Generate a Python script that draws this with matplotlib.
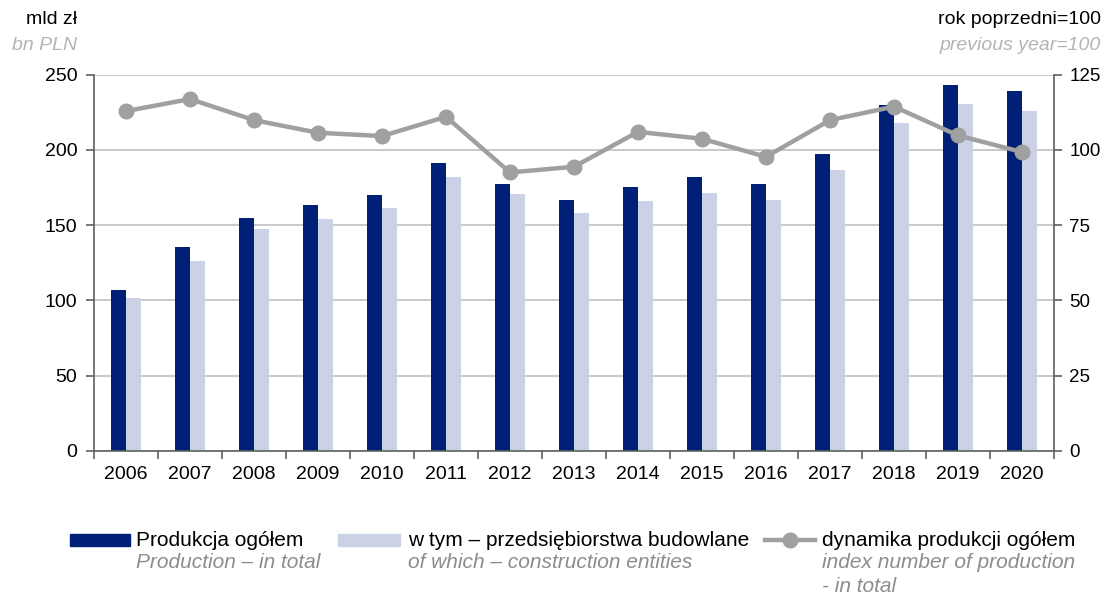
import matplotlib
matplotlib.use("Agg")
import matplotlib.pyplot as plt
import numpy as np
from matplotlib.patches import Rectangle
from matplotlib.lines import Line2D

plt.rcParams['font.family'] = ['Liberation Sans', 'DejaVu Sans']

years = ['2006', '2007', '2008', '2009', '2010', '2011', '2012', '2013',
         '2014', '2015', '2016', '2017', '2018', '2019', '2020']
production_total = [107, 135.6, 154.9, 163.6, 169.8, 191.5, 177.1, 166.7,
                    175.5, 181.8, 177.1, 197.0, 229.9, 243.4, 239.4]
construction_entities = [101.3, 126.1, 147.6, 153.9, 161.4, 182.0, 170.7, 158.0,
                         166.0, 171.5, 166.7, 186.6, 217.9, 230.7, 226.0]
index_dynamics = [112.9, 116.9, 109.9, 105.7, 104.6, 111.0, 92.5, 94.4,
                  106.0, 103.7, 97.7, 109.9, 114.4, 104.8, 99.3]
left_ticks = [0, 50, 100, 150, 200, 250]
right_ticks = [0, 25, 50, 75, 100, 125]

DARK = '#001f77'
LIGHT = '#ccd2e6'
GRAY = '#a0a0a0'
AX = '#606060'

W, H = 1106, 595
fig = plt.figure(figsize=(W / 100, H / 100), dpi=100)
ax = fig.add_axes([94 / W, 1 - 450.7 / H, (1054 - 94) / W, (450.7 - 74.7) / H])

x = np.arange(len(years))
bw = 0.235
ax.bar(x - bw / 2, production_total, bw, color=DARK, zorder=2)
ax.bar(x + bw / 2, construction_entities, bw, color=LIGHT, zorder=2)
ax.set_xlim(-0.5, len(years) - 0.5)
ax.set_ylim(0, 250)
ax.set_yticks(left_ticks)
ax.grid(axis='y', color='#c0c0c0', linewidth=1.2, zorder=0)
ax.set_axisbelow(True)
for s in ['top', 'right']:
    ax.spines[s].set_visible(False)
for s in ['left', 'bottom']:
    ax.spines[s].set_color(AX)
    ax.spines[s].set_linewidth(1.2)
ax.set_xticks(x)
ax.set_xticklabels(years)
ax.set_xticks(np.arange(-0.5, len(years) + 0.5, 1), minor=True)
ax.tick_params(axis='x', which='major', length=0, labelsize=14, pad=11)
ax.tick_params(axis='x', which='minor', length=6, color=AX, width=1.2)
ax.tick_params(axis='y', length=6, color=AX, width=1.2, labelsize=14, pad=6)

ax2 = ax.twinx()
ax2.plot(x, index_dynamics, color=GRAY, linewidth=3.2, marker='o',
         markersize=10.5, zorder=3)
ax2.set_ylim(0, 125)
ax2.set_yticks(right_ticks)
for s in ['top', 'left', 'bottom']:
    ax2.spines[s].set_visible(False)
ax2.spines['right'].set_color(AX)
ax2.spines['right'].set_linewidth(1.2)
ax2.tick_params(axis='y', length=6, color=AX, width=1.2, labelsize=13.5, pad=5)

# header labels
fig.text(77 / W, 1 - 20 / H, 'mld zł', ha='right', va='center', fontsize=14, color='#000000')
fig.text(77 / W, 1 - 45 / H, 'bn PLN', ha='right', va='center', fontsize=14,
         color='#b4b4b4', style='italic')
fig.text(1101 / W, 1 - 20 / H, 'rok poprzedni=100', ha='right', va='center', fontsize=14)
fig.text(1101 / W, 1 - 45 / H, 'previous year=100', ha='right', va='center', fontsize=14,
         color='#b4b4b4', style='italic')

# legend drawn in pixel coordinates
lg = fig.add_axes([0, 0, 1, 1], zorder=-1)
lg.set_xlim(0, W)
lg.set_ylim(H, 0)
lg.axis('off')
lg.add_patch(Rectangle((70, 534), 60, 12, color=DARK))
lg.add_patch(Rectangle((338, 534), 62, 12, color=LIGHT))
lg.add_line(Line2D([765, 815], [540, 540], color=GRAY, linewidth=3.2))
lg.add_line(Line2D([790], [540], color=GRAY, marker='o', markersize=10.5))
items = [
    (136, ['Produkcja ogółem'], ['Production – in total']),
    (408, ['w tym – przedsiębiorstwa budowlane'], ['of which – construction entities']),
    (822, ['dynamika produkcji ogółem'], ['index number of production', '- in total']),
]
for xp, main, sub in items:
    lg.text(xp, 540, main[0], ha='left', va='center', fontsize=15, color='#000000')
    for i, t in enumerate(sub):
        lg.text(xp, 563 + 23 * i, t, ha='left', va='center', fontsize=15,
                color='#8c8c8c', style='italic')

fig.savefig('out.png', dpi=100)
